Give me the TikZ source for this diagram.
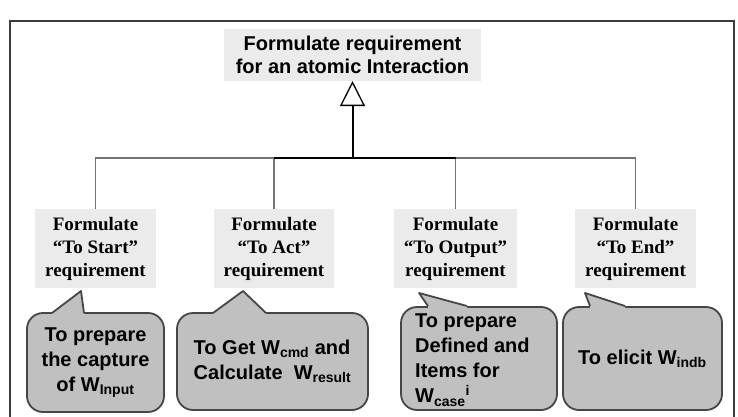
\documentclass[tikz,border=0pt]{standalone}
\usepackage{fontspec}
\setmainfont{Liberation Serif}
\setsansfont{Liberation Sans}
\usepackage{tikz}
\usetikzlibrary{arrows.meta,positioning}
\definecolor{boxfill}{RGB}{235,235,235}
\definecolor{balloon}{RGB}{192,192,192}
\definecolor{balloonedge}{RGB}{70,70,70}
\definecolor{framecol}{RGB}{60,60,60}

\begin{document}
\begin{tikzpicture}[x=1pt,y=-1pt]
\useasboundingbox (0,0) rectangle (738,417);
\tikzset{req/.style={fill=boxfill,font=\fontsize{19}{23}\selectfont\bfseries,align=center,inner xsep=10pt,inner ysep=8pt}}
\tikzset{bubble/.style={fill=balloon,draw=balloonedge,line width=1.8pt,rounded corners=16pt}}
\tikzset{bubbletxt/.style={font=\sffamily\bfseries\fontsize{20}{25}\selectfont}}
\tikzset{twig/.style={black!55,line width=1.3pt}}
% frame
\draw[framecol,line width=1.5pt] (10,417) -- (10,21) -- (734,21) -- (734,417);
% parent
\node[fill=boxfill,font=\sffamily\bfseries\fontsize{20}{23}\selectfont,align=center,inner xsep=12pt,inner ysep=7pt] (top) at (352.5,55) {Formulate requirement\\for an atomic Interaction};
% children
\foreach \n/\x/\what in {1/95.5/{“To Start”}, 2/274/{“To Act”}, 3/455.5/{“To Output”}, 4/635.5/{“To End”}} {
  \node[req] (r\n) at (\x,248.5) {Formulate\\\what\\requirement};
}
% tree
\coordinate (hub) at (352.5,158);
\foreach \n in {1,...,4}
  \draw[twig] (r\n.north) |- (hub);
\draw[black,line width=1.6pt] (r2.north |- hub) -- (r3.north |- hub);
\draw[black,line width=2pt,-{Triangle[open,length=25pt,width=25pt,line width=1.3pt]}] (hub) -- (top.south);
% balloons
\node[bubble,minimum width=137pt,minimum height=99pt] (b1) at (95.5,362.5) {};
\node[bubble,minimum width=191pt,minimum height=97pt] (b2) at (272.5,361.5) {};
\node[bubble,minimum width=156pt,minimum height=103pt] (b3) at (479,358.5) {};
\node[bubble,minimum width=159pt,minimum height=103pt] (b4) at (642.5,358.5) {};
% tails
\foreach \a/\p/\b/\y in {52/{81,291}/84/313, 213/{243,291}/266/313, 428/{419,293}/467/306, 590/{585,293}/625/306} {
  \fill[balloon] (\a,\y+4) -- (\a,\y) -- (\p) -- (\b,\y) -- (\b,\y+4) -- cycle;
  \draw[balloonedge,line width=1.8pt,line join=round] (\a,\y) -- (\p) -- (\b,\y);
}
% balloon texts
\node[bubbletxt,align=center] (n1) at (b1) {To prepare\\the capture\\of W\textsubscript{Input}};
\node[bubbletxt,align=left] (n2) at (b2) {To Get W\textsubscript{cmd} and\\Calculate\ \ W\textsubscript{result}};
\node[bubbletxt,align=left,anchor=north west,inner sep=0pt] (n3) at (415,314) {To prepare\\Defined and\\Items for\\W\textsubscript{case}\textsuperscript{i}};
\node[bubbletxt] (n4) at (b4) {To elicit W\textsubscript{indb}};
\end{tikzpicture}
\end{document}
